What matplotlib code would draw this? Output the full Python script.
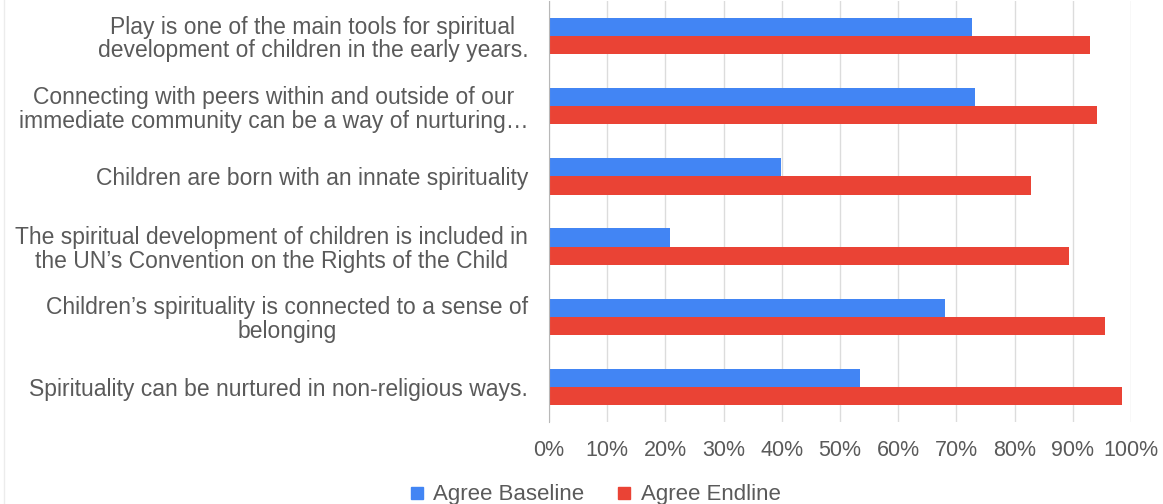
import numpy as np
import matplotlib
matplotlib.use('Agg')
from matplotlib import pyplot as plt
from matplotlib.lines import Line2D

plt.rcParams['font.family'] = ['Liberation Sans', 'DejaVu Sans']

# survey statements, top to bottom
statements = [
    'Play is one of the main tools for spiritual\ndevelopment of children in the early years.',
    'Connecting with peers within and outside of our\nimmediate community can be a way of nurturing…',
    'Children are born with an innate spirituality',
    'The spiritual development of children is included in\nthe UN’s Convention on the Rights of the Child',
    'Children’s spirituality is connected to a sense of\nbelonging',
    'Spirituality can be nurtured in non-religious ways.',
]
baseline = [0.727, 0.732, 0.399, 0.208, 0.680, 0.535]
endline = [0.930, 0.942, 0.829, 0.893, 0.956, 0.984]
ticks = [i / 10 for i in range(11)]
tick_labels = ['%d%%' % (i * 10) for i in range(11)]

blue = '#4285F4'
red = '#EA4335'
text_gray = '#5a5a5a'

fig = plt.figure(figsize=(11.63, 5.04), dpi=100)
ax = fig.add_axes([549 / 1163, 1 - 422 / 504, 582 / 1163, 421 / 504])

y = np.arange(len(statements))
h = 0.26
ax.barh(y - h / 2, baseline, height=h, color=blue, label='Agree Baseline', zorder=3)
ax.barh(y + h / 2, endline, height=h, color=red, label='Agree Endline', zorder=3)

ax.set_ylim(len(statements) - 0.5, -0.5)
ax.set_xlim(0, 1)
ax.set_xticks(ticks)
ax.set_xticklabels(tick_labels, color=text_gray, fontsize=15.5)
ax.set_yticks(y)
ax.set_yticklabels(statements, color=text_gray, fontsize=16.5)
for lab in ax.get_yticklabels():
    lab.set_multialignment('center')
    lab.set_linespacing(1.05)

ax.tick_params(axis='both', length=0)
ax.tick_params(axis='y', pad=15)
ax.tick_params(axis='x', pad=13)
ax.grid(axis='x', color='#dcdcdc', linewidth=1, zorder=0)
for side in ['top', 'right', 'bottom']:
    ax.spines[side].set_visible(False)
ax.spines['left'].set_color('#b8b8b8')
ax.spines['left'].set_zorder(4)

# faint chart border on the left
fig.add_artist(Line2D([4 / 1163, 4 / 1163], [0, 1], color='#ececec', linewidth=1))

handles = [Line2D([], [], marker='s', linestyle='none', markersize=8, color=blue),
           Line2D([], [], marker='s', linestyle='none', markersize=8, color=red)]
fig.legend(handles, ['Agree Baseline', 'Agree Endline'], loc='center',
           bbox_to_anchor=(0.511, 0.018), ncol=2, frameon=False, fontsize=16,
           handlelength=0.8, handletextpad=0.35, columnspacing=1.4,
           labelcolor=text_gray, borderpad=0)

fig.savefig('out.png', dpi=100)
